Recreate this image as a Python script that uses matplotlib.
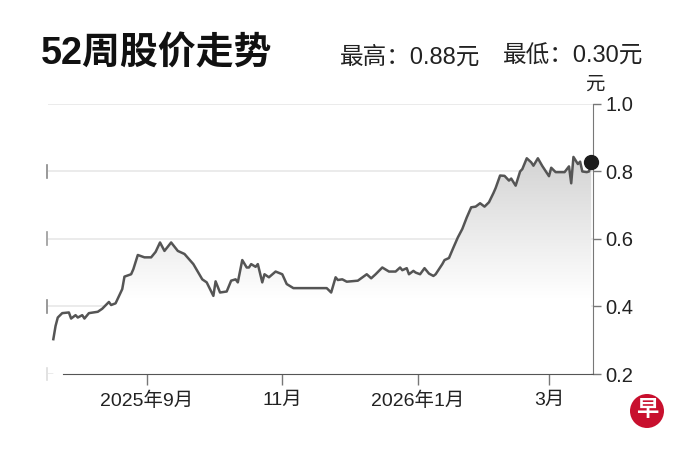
import numpy as np
import pandas as pd
import matplotlib
matplotlib.use("Agg")
import matplotlib.pyplot as plt
import matplotlib.dates as mdates
from matplotlib.colors import LinearSegmentedColormap
from matplotlib.patches import Circle
from matplotlib.transforms import blended_transform_factory

plt.rcParams['font.family'] = ['Liberation Sans', 'Noto Sans CJK SC', 'DejaVu Sans']

# Daily close (approximate)
dates = [
    "2025-07-21", "2025-07-22", "2025-07-23", "2025-07-25", "2025-07-28", "2025-07-29",
    "2025-07-31", "2025-08-01", "2025-08-03", "2025-08-04", "2025-08-06", "2025-08-10",
    "2025-08-12", "2025-08-15", "2025-08-16", "2025-08-18", "2025-08-21", "2025-08-22",
    "2025-08-25", "2025-08-26", "2025-08-28", "2025-08-31", "2025-09-03", "2025-09-05",
    "2025-09-07", "2025-09-09", "2025-09-12", "2025-09-15", "2025-09-18", "2025-09-22",
    "2025-09-26", "2025-09-28", "2025-10-01", "2025-10-02", "2025-10-04", "2025-10-07",
    "2025-10-09", "2025-10-11", "2025-10-12", "2025-10-14", "2025-10-16", "2025-10-17",
    "2025-10-18", "2025-10-20", "2025-10-21", "2025-10-23", "2025-10-24", "2025-10-26",
    "2025-10-29", "2025-11-01", "2025-11-03", "2025-11-06", "2025-11-21", "2025-11-23",
    "2025-11-25", "2025-11-26", "2025-11-28", "2025-11-30", "2025-12-05", "2025-12-09",
    "2025-12-11", "2025-12-13", "2025-12-16", "2025-12-19", "2025-12-22", "2025-12-24",
    "2025-12-25", "2025-12-27", "2025-12-28", "2025-12-30", "2025-12-31", "2026-01-02",
    "2026-01-04", "2026-01-06", "2026-01-08", "2026-01-09", "2026-01-12", "2026-01-13",
    "2026-01-15", "2026-01-17", "2026-01-19", "2026-01-21", "2026-01-23", "2026-01-25",
    "2026-01-27", "2026-01-29", "2026-01-31", "2026-02-02", "2026-02-04", "2026-02-05",
    "2026-02-07", "2026-02-09", "2026-02-11", "2026-02-12", "2026-02-14", "2026-02-16",
    "2026-02-17", "2026-02-19", "2026-02-21", "2026-02-22", "2026-02-24", "2026-02-26",
    "2026-03-01", "2026-03-02", "2026-03-04", "2026-03-08", "2026-03-10", "2026-03-11",
    "2026-03-12", "2026-03-14", "2026-03-15", "2026-03-16", "2026-03-18", "2026-03-19",
    "2026-03-20",
]
prices = [
    0.303, 0.342, 0.367, 0.380, 0.382, 0.364,
    0.374, 0.367, 0.374, 0.364, 0.380, 0.384,
    0.393, 0.413, 0.404, 0.409, 0.451, 0.488,
    0.495, 0.510, 0.552, 0.545, 0.545, 0.561,
    0.589, 0.564, 0.589, 0.564, 0.555, 0.525,
    0.480, 0.471, 0.431, 0.474, 0.441, 0.444,
    0.476, 0.480, 0.471, 0.537, 0.515, 0.515,
    0.525, 0.517, 0.525, 0.471, 0.495, 0.486,
    0.503, 0.495, 0.466, 0.454, 0.454, 0.441,
    0.486, 0.478, 0.480, 0.473, 0.476, 0.495,
    0.483, 0.495, 0.515, 0.503, 0.503, 0.515,
    0.507, 0.513, 0.495, 0.505, 0.500, 0.495,
    0.513, 0.497, 0.490, 0.495, 0.525, 0.537,
    0.543, 0.574, 0.604, 0.629, 0.663, 0.693,
    0.695, 0.705, 0.695, 0.708, 0.735, 0.750,
    0.787, 0.786, 0.772, 0.778, 0.757, 0.799,
    0.806, 0.838, 0.826, 0.816, 0.838, 0.815,
    0.785, 0.810, 0.797, 0.797, 0.814, 0.764,
    0.842, 0.821, 0.828, 0.799, 0.797, 0.799,
    0.826,
]

title = "52周股价走势"
high_price = 0.88
low_price = 0.30
unit = "元"
y_ticks = [0.2, 0.4, 0.6, 0.8, 1.0]
x_tick_dates = ["2025-09-01", "2025-11-01", "2026-01-01", "2026-03-01"]
x_tick_labels = ["2025年9月", "11月", "2026年1月", "3月"]

x = mdates.date2num(pd.to_datetime(dates))
sep1 = mdates.date2num(pd.Timestamp("2025-09-01"))
x0, x1 = sep1 - 44.4, sep1 + 200.8

W, H = 693, 462
fig = plt.figure(figsize=(W / 100, H / 100), dpi=100)
ax = fig.add_axes([48 / W, 1 - 374 / H, (593 - 48) / W, (374 - 103.5) / H])

# grey gradient under the line
cmap = LinearSegmentedColormap.from_list(
    "fade", [(0, "#ffffff"), (0.28, "#ffffff"), (0.82, "#d2d2d2"), (1, "#cbcbcb")])
grad = np.linspace(0, 1, 256).reshape(-1, 1)
im = ax.imshow(grad, extent=[x0, x1, 0.2, 1.0], origin="lower", aspect="auto",
               cmap=cmap, vmin=0, vmax=1, zorder=1)
fill = ax.fill_between(x, prices, 0.2, facecolor="none", edgecolor="none")
im.set_clip_path(fill.get_paths()[0], transform=ax.transData)

ax.plot(x, prices, color="#555555", lw=1.8, zorder=3, solid_joinstyle="round")
ax.plot(x[-1], prices[-1], "o", color="#1c1c1c", ms=10, zorder=5, clip_on=False)

ax.set_xlim(x0, x1)
ax.set_ylim(0.2, 1.0)

ax.grid(axis="y", color="#ebebeb", lw=1.4, zorder=0)
ax.set_axisbelow(True)

ax.yaxis.tick_right()
ax.set_yticks(y_ticks)
ax.set_yticklabels([f"{v:.1f}" for v in y_ticks])
ax.tick_params(axis="y", direction="out", length=6, width=1, color="#777777",
               labelsize=14.5, labelcolor="#222222", pad=3)

ax.set_xticks(mdates.date2num(pd.to_datetime(x_tick_dates)))
ax.set_xticklabels(x_tick_labels)
ax.tick_params(axis="x", direction="out", length=8, width=1, color="#777777",
               labelsize=14, labelcolor="#222222", pad=5)

for s in ["top", "left"]:
    ax.spines[s].set_visible(False)
ax.spines["bottom"].set_bounds(sep1 - 37.7, x1)
ax.spines["bottom"].set_color("#555555")
ax.spines["right"].set_color("#777777")

# little marks on the left edge
tr = blended_transform_factory(ax.transAxes, ax.transData)
for v, c in zip([0.2, 0.4, 0.6, 0.8], ["#dddddd", "#888888", "#999999", "#888888"]):
    ax.plot([-0.002, -0.002], [v - 0.019, v + 0.019], transform=tr, color=c,
            lw=1.2, clip_on=False)

# header
fig.text(41 / W, 1 - 54 / H, title, fontsize=27.3, fontweight="bold",
         color="#111111", ha="left", va="center")
fig.text(340 / W, 1 - 57 / H, f"最高：{high_price:.2f}元", fontsize=17,
         color="#222222", ha="left", va="center")
fig.text(503 / W, 1 - 57 / H, f"最低：{low_price:.2f}元", fontsize=17,
         color="#222222", ha="left", va="center")
fig.text(595 / W, 1 - 85 / H, unit, fontsize=14, color="#222222",
         ha="center", va="center")

# logo
fig.patches.append(Circle((6.47, (H - 411) / 100), 0.17, transform=fig.dpi_scale_trans,
                          facecolor="#c8102e", edgecolor="none"))
fig.text(647 / W, 1 - 411 / H, "早", fontsize=16, fontweight="bold", color="white",
         ha="center", va="center")

fig.savefig("out.png", dpi=100)
